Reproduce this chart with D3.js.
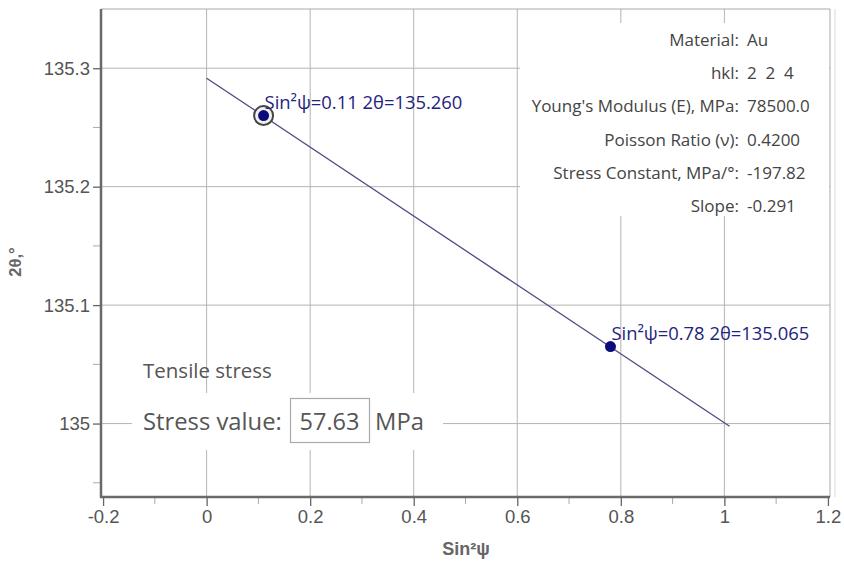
<!DOCTYPE html>
<html>
<head>
<meta charset="utf-8">
<script src="https://cdn.jsdelivr.net/npm/d3@7"></script>
<style>
  body { margin: 0; background: #fff; }
  svg { display: block; }
  .tick text { font-family: "Liberation Sans", Arial, sans-serif; font-size: 18.5px; fill: #555; }
</style>
</head>
<body>
<div id="chart"></div>
<script>
// data
const sin2psi = [0.11, 0.78];
const twoTheta = [135.260, 135.065];
const fitIntercept = 135.2916;
const fitSlope = -0.291;
const fitRange = [0, 1.01];
const xTicks = [-0.2, 0, 0.2, 0.4, 0.6, 0.8, 1, 1.2];
const xMinor = [-0.1, 0.1, 0.3, 0.5, 0.7, 0.9, 1.1];
const yTicks = [135, 135.1, 135.2, 135.3];
const yMinor = [134.95, 135.05, 135.15, 135.25];
const infoLabels = ["Material:", "hkl:", "Young's Modulus (E), MPa:", "Poisson Ratio (ν):", "Stress Constant, MPa/°:", "Slope:"];
const infoValues = ["Au", "2  2  4", "78500.0", "0.4200", "-197.82", "-0.291"];
const stressValue = "57.63";

const width = 844, height = 563;
const plotL = 101, plotR = 830, plotT = 9, plotB = 497;

const svg = d3.select('#chart').append('svg')
  .attr('width', width)
  .attr('height', height);

const x = d3.scaleLinear().domain([-0.204, 1.204]).range([plotL, plotR]);
const y = d3.scaleLinear().domain([134.938, 135.35]).range([plotB, plotT]);

// grid
svg.append('g').selectAll('line').data(xTicks.filter(d => d > -0.2 && d < 1.2)).join('line')
  .attr('x1', d => x(d)).attr('x2', d => x(d))
  .attr('y1', plotT).attr('y2', plotB)
  .attr('stroke', '#b4b4b4').attr('stroke-width', 1);
svg.append('g').selectAll('line').data(yTicks).join('line')
  .attr('x1', plotL).attr('x2', plotR)
  .attr('y1', d => y(d)).attr('y2', d => y(d))
  .attr('stroke', '#b4b4b4').attr('stroke-width', 1);

// frame top / right
svg.append('line').attr('x1', plotL).attr('x2', plotR).attr('y1', plotT).attr('y2', plotT)
  .attr('stroke', '#a8a8a8');
svg.append('line').attr('x1', plotR).attr('x2', plotR).attr('y1', plotT).attr('y2', plotB)
  .attr('stroke', '#a8a8a8');
svg.append('line').attr('x1', 835).attr('x2', 835).attr('y1', plotT).attr('y2', plotB)
  .attr('stroke', '#d8d8d8');

// minor ticks
svg.append('g').selectAll('line').data(xMinor).join('line')
  .attr('x1', d => x(d)).attr('x2', d => x(d))
  .attr('y1', plotB).attr('y2', plotB + 7)
  .attr('stroke', '#aaa');
svg.append('g').selectAll('line').data(yMinor).join('line')
  .attr('x1', plotL - 8).attr('x2', plotL)
  .attr('y1', d => y(d)).attr('y2', d => y(d))
  .attr('stroke', '#aaa');

// axes
const xAxis = svg.append('g')
  .attr('transform', `translate(0,${plotB})`)
  .call(d3.axisBottom(x).tickValues(xTicks).tickSize(9).tickPadding(4)
    .tickFormat(d => d === 0 ? '0' : String(+d.toFixed(1))));
const yAxis = svg.append('g')
  .attr('transform', `translate(${plotL},0)`)
  .call(d3.axisLeft(y).tickValues(yTicks).tickSize(8).tickPadding(3)
    .tickFormat(d => d === 135 ? '135' : d.toFixed(1)));
[xAxis, yAxis].forEach(a => {
  a.select('.domain').attr('stroke', '#6a6a6a').attr('stroke-width', 2.5);
  a.selectAll('.tick line').attr('stroke', '#666').attr('stroke-width', 1.3);
});
yAxis.select('.domain').attr('d', `M0,${plotT}V${plotB + 1}`);
xAxis.select('.domain').attr('d', `M${plotL - 1},0H${plotR}`);

// axis titles
svg.append('text').attr('x', 466).attr('y', 555).attr('text-anchor', 'middle')
  .attr('font-family', 'Liberation Sans, Arial, sans-serif').attr('font-size', 18)
  .attr('font-weight', 'bold').attr('fill', '#666').text('Sin²ψ');
svg.append('text').attr('transform', 'translate(21,262) rotate(-90)').attr('text-anchor', 'middle')
  .attr('font-family', 'Liberation Sans, Arial, sans-serif').attr('font-size', 16.5)
  .attr('font-weight', 'bold').attr('fill', '#666').text('2θ,°');

// info panel (white background hides the grid)
svg.append('rect').attr('x', 520).attr('y', 23).attr('width', plotR - 521).attr('height', 193)
  .attr('fill', '#fff');
const info = svg.append('g')
  .attr('font-family', 'Open Sans, Noto Sans, sans-serif').attr('font-size', 17).attr('fill', '#444');
infoLabels.forEach((lab, i) => {
  const yy = 46 + i * 33.2;
  info.append('text').attr('x', 739).attr('y', yy).attr('text-anchor', 'end').text(lab);
  info.append('text').attr('x', 747).attr('y', yy).attr('xml:space', 'preserve').text(infoValues[i]);
});

// stress value panel
svg.append('rect').attr('x', 132).attr('y', 393).attr('width', 311).attr('height', 57).attr('fill', '#fff');
svg.append('rect').attr('x', 290.5).attr('y', 398.5).attr('width', 79).attr('height', 44)
  .attr('fill', '#fff').attr('stroke', '#aaa').attr('stroke-width', 1.2);
const sp = svg.append('g').attr('font-family', 'Open Sans, Noto Sans, sans-serif').attr('fill', '#555');
sp.append('text').attr('x', 143).attr('y', 378).attr('font-size', 20.5).text('Tensile stress');
sp.append('text').attr('x', 143).attr('y', 430).attr('font-size', 23.8).text('Stress value:');
sp.append('text').attr('x', 329.5).attr('y', 430).attr('font-size', 23.5).attr('text-anchor', 'middle').text(stressValue);
sp.append('text').attr('x', 375).attr('y', 430).attr('font-size', 23.8).text('MPa');

// fit line
svg.append('path')
  .datum(fitRange)
  .attr('d', d3.line().x(d => x(d)).y(d => y(fitIntercept + fitSlope * d)))
  .attr('fill', 'none').attr('stroke', '#4b4b86').attr('stroke-width', 1.3);

// selected point ring
svg.append('circle').attr('cx', x(sin2psi[0])).attr('cy', y(twoTheta[0])).attr('r', 9.5)
  .attr('fill', '#f0f0f0').attr('stroke', '#454545').attr('stroke-width', 2);

// points
svg.append('g').selectAll('circle').data(sin2psi).join('circle')
  .attr('cx', d => x(d)).attr('cy', (d, i) => y(twoTheta[i])).attr('r', 5.5)
  .attr('fill', '#0b0b7a');

// point labels
svg.append('g').selectAll('text').data(sin2psi).join('text')
  .attr('x', d => x(d) + 1).attr('y', (d, i) => y(twoTheta[i]) - 7)
  .attr('font-family', 'Open Sans, Noto Sans, sans-serif').attr('font-size', 18.4).attr('fill', '#23237e')
  .text((d, i) => `Sin²ψ=${d.toFixed(2)} 2θ=${twoTheta[i].toFixed(3)}`);
</script>
</body>
</html>
